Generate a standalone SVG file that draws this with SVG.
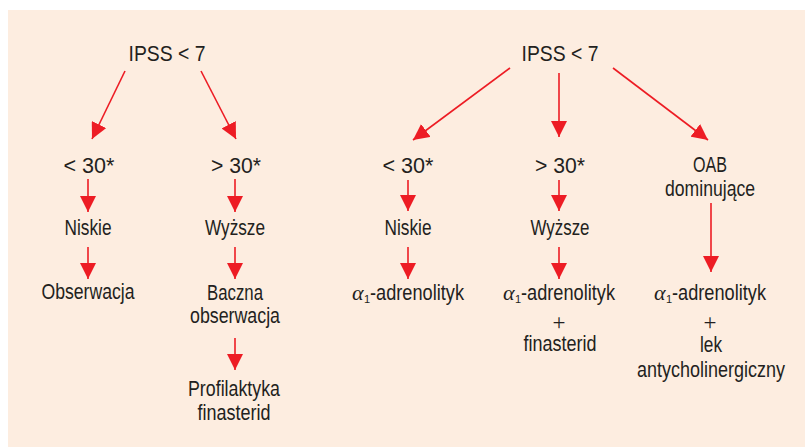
<svg xmlns="http://www.w3.org/2000/svg" width="805" height="448" viewBox="0 0 805 448">
<defs>
<style>
.t{font-family:"Liberation Sans",Arial,sans-serif;font-size:22px;fill:#231f20;text-anchor:middle}
.ts{font-family:"Liberation Sans",Arial,sans-serif;font-size:22px;fill:#231f20;text-anchor:start}
.p{font-family:"Liberation Serif","Times New Roman",serif;font-size:23px;fill:#231f20;text-anchor:middle}
.a{font-family:"Liberation Serif","Times New Roman",serif;font-style:italic;font-size:22px;fill:#231f20}
.s{font-family:"Liberation Sans",Arial,sans-serif;font-size:11px;fill:#231f20}
.c line{stroke:#ed1c24;stroke-width:1.6;marker-end:url(#ah)}
</style>
<marker id="ah" markerUnits="userSpaceOnUse" markerWidth="16" markerHeight="16" refX="16" refY="8" orient="auto">
<path d="M0,0 L16,8 L0,16 z" fill="#ed1c24"/>
</marker>
</defs>
<rect x="8" y="10" width="797" height="437" fill="#fdede0"/>
<g class="c" id="connectors">
<line x1="125" y1="71" x2="92" y2="139"/>
<line x1="201" y1="71" x2="236" y2="139"/>
<line x1="88" y1="179" x2="88" y2="212"/>
<line x1="235" y1="179" x2="235" y2="212"/>
<line x1="88" y1="247" x2="88" y2="279"/>
<line x1="235" y1="247" x2="235" y2="279"/>
<line x1="235" y1="338" x2="235" y2="370"/>
<line x1="510" y1="68" x2="413" y2="140"/>
<line x1="559" y1="73" x2="559" y2="137"/>
<line x1="613" y1="68" x2="708" y2="140"/>
<line x1="408" y1="180" x2="408" y2="211"/>
<line x1="559" y1="180" x2="559" y2="211"/>
<line x1="408" y1="247" x2="408" y2="279"/>
<line x1="559" y1="247" x2="559" y2="279"/>
<line x1="711" y1="203" x2="711" y2="272"/>
</g>
<g id="l-root"><text class="t" x="167" y="61" textLength="77" lengthAdjust="spacingAndGlyphs">IPSS &lt; 7</text></g>
<g id="l-lt30"><text class="t" x="89" y="173" textLength="51" lengthAdjust="spacingAndGlyphs">&lt; 30*</text></g>
<g id="l-gt30"><text class="t" x="236" y="173" textLength="50" lengthAdjust="spacingAndGlyphs">&gt; 30*</text></g>
<g id="l-niskie"><text class="t" x="88" y="235" textLength="47" lengthAdjust="spacingAndGlyphs">Niskie</text></g>
<g id="l-wyzsze"><text class="t" x="235" y="235" textLength="60" lengthAdjust="spacingAndGlyphs">Wyższe</text></g>
<g id="l-obs"><text class="t" x="88" y="299" textLength="93" lengthAdjust="spacingAndGlyphs">Obserwacja</text></g>
<g id="l-baczna"><text class="t" x="235" y="300" textLength="56" lengthAdjust="spacingAndGlyphs">Baczna</text><text class="t" x="235" y="323" textLength="90" lengthAdjust="spacingAndGlyphs">obserwacja</text></g>
<g id="l-prof"><text class="t" x="234" y="396" textLength="92" lengthAdjust="spacingAndGlyphs">Profilaktyka</text><text class="t" x="234" y="420" textLength="73" lengthAdjust="spacingAndGlyphs">finasterid</text></g>
<g id="r-root"><text class="t" x="560" y="61" textLength="77" lengthAdjust="spacingAndGlyphs">IPSS &lt; 7</text></g>
<g id="r-lt30"><text class="t" x="408" y="173" textLength="51" lengthAdjust="spacingAndGlyphs">&lt; 30*</text></g>
<g id="r-gt30"><text class="t" x="560" y="173" textLength="50" lengthAdjust="spacingAndGlyphs">&gt; 30*</text></g>
<g id="r-oab"><text class="t" x="710" y="172" textLength="34" lengthAdjust="spacingAndGlyphs">OAB</text><text class="t" x="710" y="196" textLength="90" lengthAdjust="spacingAndGlyphs">dominujące</text></g>
<g id="r-niskie"><text class="t" x="408" y="235" textLength="47" lengthAdjust="spacingAndGlyphs">Niskie</text></g>
<g id="r-wyzsze"><text class="t" x="560" y="235" textLength="59" lengthAdjust="spacingAndGlyphs">Wyższe</text></g>
<g id="r-alfa1"><text class="a" x="352" y="300">α</text><text class="s" x="364" y="303">1</text><text class="ts" x="370" y="300" textLength="94" lengthAdjust="spacingAndGlyphs">-adrenolityk</text></g>
<g id="r-alfa2"><text class="a" x="503" y="300">α</text><text class="s" x="515" y="303">1</text><text class="ts" x="521" y="300" textLength="94" lengthAdjust="spacingAndGlyphs">-adrenolityk</text><text class="p" x="559" y="330">+</text><text class="t" x="560" y="351" textLength="73" lengthAdjust="spacingAndGlyphs">finasterid</text></g>
<g id="r-alfa3"><text class="a" x="654" y="300">α</text><text class="s" x="666" y="303">1</text><text class="ts" x="672" y="300" textLength="94" lengthAdjust="spacingAndGlyphs">-adrenolityk</text><text class="p" x="710" y="330">+</text><text class="t" x="711" y="352" textLength="22" lengthAdjust="spacingAndGlyphs">lek</text><text class="t" x="711" y="377" textLength="148" lengthAdjust="spacingAndGlyphs">antycholinergiczny</text></g>
</svg>
